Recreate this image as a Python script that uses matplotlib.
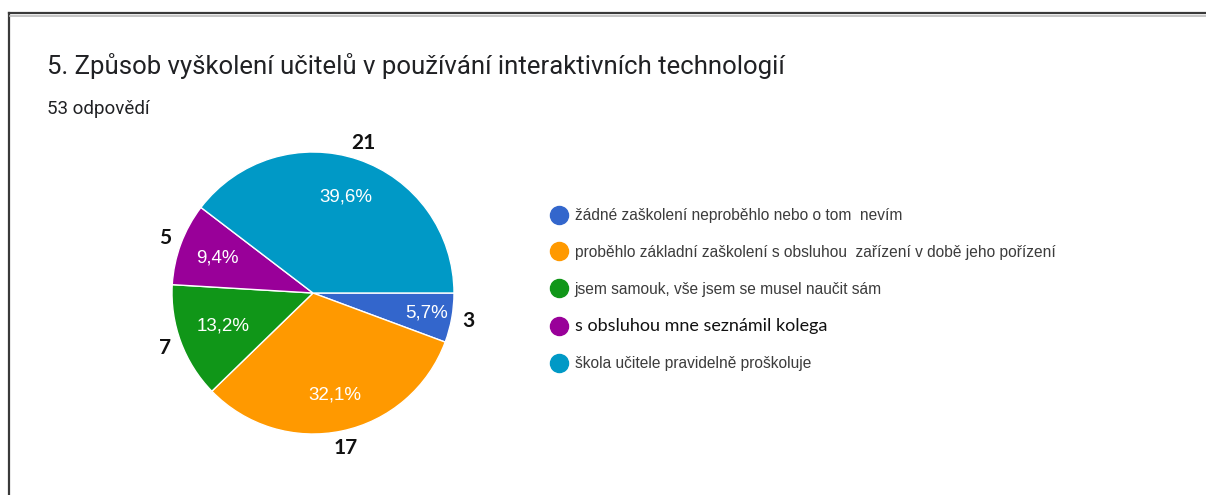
import numpy as np
import matplotlib.pyplot as plt
from matplotlib.lines import Line2D

# data
categories = [
    "žádné zaškolení neproběhlo nebo o tom  nevím",
    "proběhlo základní zaškolení s obsluhou  zařízení v době jeho pořízení",
    "jsem samouk, vše jsem se musel naučit sám",
    "s obsluhou mne seznámil kolega",
    "škola učitele pravidelně proškoluje",
]
counts = [3, 17, 7, 5, 21]
colors = ["#3366CC", "#FF9900", "#109618", "#990099", "#0099C6"]
pct_dist = [0.82, 0.74, 0.68, 0.72, 0.72]

W, H = 1206, 495
fig = plt.figure(figsize=(W / 100, H / 100), dpi=100)

# frame (top and left edge of the card)
fig.add_artist(Line2D([9 / W, 9 / W], [0, 1 - 13 / H], color="#3a3a3a", lw=1.6))
fig.add_artist(Line2D([9 / W, 1], [1 - 13 / H, 1 - 13 / H], color="#3a3a3a", lw=1.6))
fig.add_artist(Line2D([10 / W, 1], [1 - 15.5 / H, 1 - 15.5 / H], color="#bbbbbb", lw=1.2))

fig.text(47 / W, 1 - 66 / H, "5. Způsob vyškolení učitelů v používání interaktivních technologií",
         fontsize=18.5, family="Roboto", color="#202124", va="center", ha="left")
fig.text(47 / W, 1 - 109 / H, "53 odpovědí", fontsize=13.5, family="Roboto",
         color="#202124", va="center", ha="left")

# pie
cx, cy, r = 313, 293, 141
ax = fig.add_axes([(cx - r) / W, 1 - (cy + r) / H, 2 * r / W, 2 * r / H])
wedges, _ = ax.pie(counts, colors=colors, startangle=0, counterclock=False,
                   radius=1, wedgeprops=dict(edgecolor="white", linewidth=1))
ax.set_xlim(-1, 1)
ax.set_ylim(-1, 1)
ax.set_aspect("equal")
ax.axis("off")

total = sum(counts)
for w, n, d in zip(wedges, counts, pct_dist):
    mid = np.deg2rad((w.theta1 + w.theta2) / 2)
    pct = f"{100 * n / total:.1f}".replace(".", ",") + "%"
    ax.text(d * np.cos(mid), d * np.sin(mid), pct, ha="center", va="center",
            color="white", fontsize=13.5, family="Liberation Sans")
    ax.text(1.12 * np.cos(mid), 1.12 * np.sin(mid), str(n), ha="center", va="center",
            color="#111111", fontsize=15, fontweight="bold", family="Lato", clip_on=False)

handles = [Line2D([], [], marker="o", linestyle="", markersize=13, markerfacecolor=c,
                  markeredgecolor=c) for c in colors]
leg = fig.legend(handles, categories, loc="upper left", bbox_to_anchor=(549 / W, 1 - 208 / H),
                 frameon=False, fontsize=11.2, handletextpad=0.35, labelspacing=1.4,
                 handlelength=1.3, borderpad=0, borderaxespad=0)
for i, t in enumerate(leg.get_texts()):
    t.set_family("Liberation Sans")
    t.set_color("#3c3c3c")
leg.get_texts()[3].set_family("Lato")
leg.get_texts()[3].set_color("#111111")
leg.get_texts()[3].set_fontsize(13)

fig.savefig("out.png", dpi=100)
